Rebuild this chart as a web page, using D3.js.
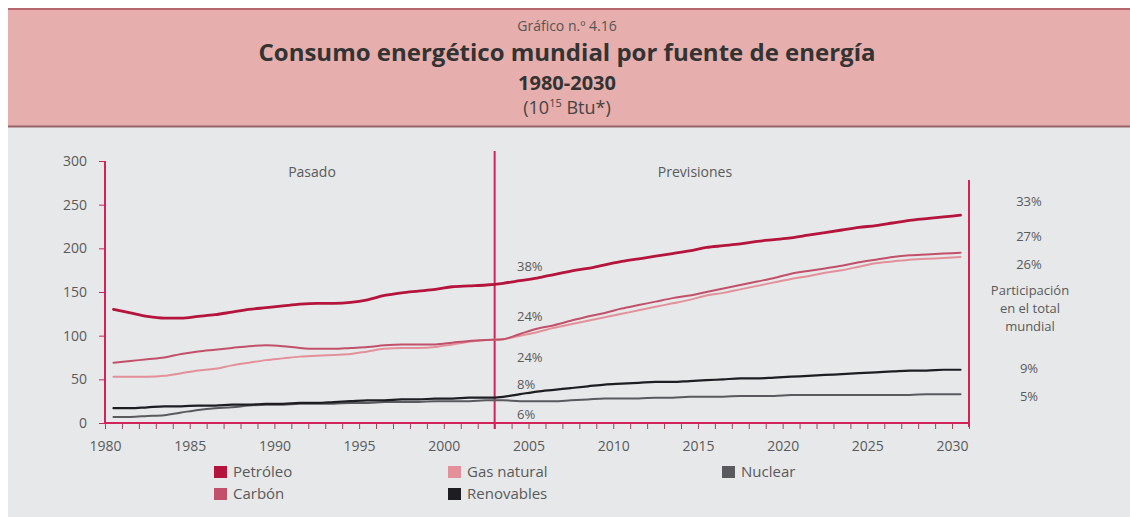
<!DOCTYPE html>
<html>
<head>
<meta charset="utf-8">
<script src="https://cdn.jsdelivr.net/npm/d3@7"></script>
<style>
  body { margin: 0; background: #fff; }
  svg { display: block; font-family: "Open Sans", sans-serif; }
</style>
</head>
<body>
<svg id="chart" width="1130" height="517"></svg>
<script>
// values (10^15 Btu)
const years = d3.range(1980, 2031);
const petroleo = [130,126,122,120,120,122,124,127,130,132,134,136,137,137,138,141,146,149,151,153,156,157,158,160,
  163,166,170,174,177,181,185,188,191,194,197,201,203,205,208,210,212,215,218,221,224,226,229,232,234,236,238];
const carbon = [69,71,73,75,79,82,84,86,88,89,88,86,85,85,86,87,89,90,90,90,92,94,95,96,
  102,108,112,117,122,126,131,135,139,143,146,150,154,158,162,166,171,174,177,180,184,187,190,192,193,194,195];
const gas = [53,53,53,54,57,60,62,66,69,72,74,76,77,78,79,82,85,86,86,87,90,93,95,96,
  100,104,109,113,117,121,125,129,133,137,141,146,149,153,157,161,165,168,172,175,179,183,185,187,188,189,190];
const renovables = [17,17,18,19,19,20,20,21,21,22,22,23,23,24,25,26,26,27,27,28,28,29,29,30,
  33,36,38,40,42,44,45,46,47,47,48,49,50,51,51,52,53,54,55,56,57,58,59,60,60,61,61];
const nuclear = [7,7,8,9,12,15,17,18,20,21,21,22,22,22,23,23,24,24,24,25,25,25,26,26,
  25,25,25,26,27,28,28,28,29,29,30,30,30,31,31,31,32,32,32,32,32,32,32,32,33,33,33];

const series = [
  {name: 'Petróleo', values: petroleo, color: '#b5143c', width: 2.8},
  {name: 'Carbón', values: carbon, color: '#c2506a', width: 2},
  {name: 'Gas natural', values: gas, color: '#e3909a', width: 2},
  {name: 'Renovables', values: renovables, color: '#1e1e22', width: 2.2},
  {name: 'Nuclear', values: nuclear, color: '#5a5a5e', width: 2}
];
const legendOrder = ['Petróleo', 'Gas natural', 'Nuclear', 'Carbón', 'Renovables'];

const yTicks = [0, 50, 100, 150, 200, 250, 300];
const xLabels = d3.range(1980, 2031, 5);
const shares2003 = [
  {t: '38%', v: 180}, {t: '24%', v: 123}, {t: '24%', v: 76}, {t: '8%', v: 45}, {t: '6%', v: 10}
];
const shares2030 = [
  {t: '33%', v: 254}, {t: '27%', v: 214}, {t: '26%', v: 182}, {t: '9%', v: 63}, {t: '5%', v: 31}
];

const svg = d3.select('#chart');
const axisColor = '#d2245a';
const textColor = '#5a5a5a';

// background panels
svg.append('rect').attr('x', 8).attr('y', 8).attr('width', 1122).attr('height', 509).attr('fill', '#e6e8ea');
svg.append('rect').attr('x', 8).attr('y', 8).attr('width', 1122).attr('height', 119).attr('fill', '#e6aeac');
svg.append('line').attr('x1', 8).attr('x2', 1130).attr('y1', 9).attr('y2', 9).attr('stroke', '#b8666e').attr('stroke-width', 2);
svg.append('line').attr('x1', 8).attr('x2', 1130).attr('y1', 126.5).attr('y2', 126.5).attr('stroke', '#966468').attr('stroke-width', 2);

// title
const title = svg.append('g').attr('text-anchor', 'middle').attr('fill', '#333');
title.append('text').attr('x', 567).attr('y', 31).attr('font-size', 14).attr('fill', '#555').text('Gráfico n.º 4.16');
title.append('text').attr('x', 567).attr('y', 61).attr('font-size', 24).attr('font-weight', 'bold').text('Consumo energético mundial por fuente de energía');
title.append('text').attr('x', 567).attr('y', 90).attr('font-size', 20).attr('font-weight', 'bold').text('1980-2030');
const unit = title.append('text').attr('x', 567).attr('y', 114).attr('font-size', 18).attr('fill', '#444');
unit.append('tspan').text('(10');
unit.append('tspan').attr('font-size', 11).attr('dy', -7).text('15');
unit.append('tspan').attr('dy', 7).text(' Btu*)');

// scales
const x = d3.scaleLinear().domain([1980, 2031]).range([105, 969]);
const y = d3.scaleLinear().domain([0, 300]).range([423, 161]);

// y axis
const yAxis = svg.append('g').attr('transform', 'translate(105,0)')
  .call(d3.axisLeft(y).tickValues(yTicks).tickSize(6).tickPadding(12));
yAxis.select('.domain').remove();
yAxis.selectAll('line').attr('stroke', axisColor);
yAxis.selectAll('text').attr('fill', textColor).attr('font-size', 14).attr('font-family', '"Open Sans", sans-serif');

// x axis
const xAxis = svg.append('g').attr('transform', 'translate(0,423)')
  .call(d3.axisBottom(x).tickValues(d3.range(1980, 2032)).tickSize(6).tickFormat(''));
xAxis.select('.domain').remove();
xAxis.selectAll('line').attr('stroke', '#a04560');
const xLab = svg.append('g').attr('transform', 'translate(0,423)')
  .call(d3.axisBottom(x).tickValues(xLabels).tickSize(0).tickPadding(18).tickFormat(d3.format('d')));
xLab.select('.domain').remove();
xLab.selectAll('text').attr('fill', textColor).attr('font-size', 14).attr('font-family', '"Open Sans", sans-serif');

// axis lines
svg.append('line').attr('x1', x(1980)).attr('x2', x(1980)).attr('y1', y(300)).attr('y2', y(0)).attr('stroke', axisColor).attr('stroke-width', 2);
svg.append('line').attr('x1', x(1980)).attr('x2', x(2031)).attr('y1', y(0)).attr('y2', y(0)).attr('stroke', axisColor).attr('stroke-width', 2);
svg.append('line').attr('x1', x(2003)).attr('x2', x(2003)).attr('y1', 151).attr('y2', 429).attr('stroke', axisColor).attr('stroke-width', 2);
svg.append('line').attr('x1', x(2031)).attr('x2', x(2031)).attr('y1', 180).attr('y2', 427).attr('stroke', axisColor).attr('stroke-width', 2);

// period labels
svg.append('text').attr('x', 312).attr('y', 177).attr('text-anchor', 'middle').attr('font-size', 14).attr('fill', textColor).text('Pasado');
svg.append('text').attr('x', 695).attr('y', 177).attr('text-anchor', 'middle').attr('font-size', 14).attr('fill', textColor).text('Previsiones');

// lines (each year's value plotted mid-year)
const line = d3.line().x((d, i) => x(years[i] + 0.5)).y(d => y(d)).curve(d3.curveMonotoneX);
series.slice().reverse().forEach(s => {
  svg.append('path').datum(s.values).attr('d', line)
    .attr('fill', 'none').attr('stroke', s.color).attr('stroke-width', s.width)
    .attr('stroke-linejoin', 'round').attr('stroke-linecap', 'round');
});

// share labels
svg.append('g').selectAll('text').data(shares2003).join('text')
  .attr('x', 517).attr('y', d => y(d.v) + 5).attr('font-size', 13).attr('fill', textColor).text(d => d.t);
svg.append('g').selectAll('text').data(shares2030).join('text')
  .attr('x', 1029).attr('y', d => y(d.v) + 5).attr('text-anchor', 'middle').attr('font-size', 13).attr('fill', textColor).text(d => d.t);
const part = svg.append('text').attr('text-anchor', 'middle').attr('font-size', 13).attr('fill', textColor);
['Participación', 'en el total', 'mundial'].forEach((t, i) => {
  part.append('tspan').attr('x', 1030).attr('y', 295 + i * 18).text(t);
});

// legend
const legendX = [214, 448, 722];
const legend = svg.append('g').selectAll('g').data(legendOrder).join('g')
  .attr('transform', (d, i) => `translate(${legendX[i % 3]},${466 + Math.floor(i / 3) * 22})`);
legend.append('rect').attr('width', 13).attr('height', 12)
  .attr('fill', d => series.find(s => s.name === d).color);
legend.append('text').attr('x', 19).attr('y', 11).attr('font-size', 15).attr('fill', textColor).text(d => d);
</script>
</body>
</html>
